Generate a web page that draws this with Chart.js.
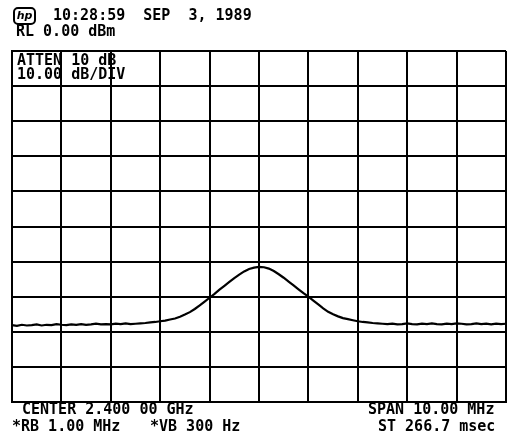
<!DOCTYPE html>
<html>
<head>
<meta charset="utf-8">
<script src="https://cdn.jsdelivr.net/npm/chart.js@4/dist/chart.umd.min.js"></script>
<style>
  body { margin: 0; background: #fff; }
  #wrap { position: relative; width: 508px; height: 445px; }
  canvas { position: absolute; left: 0; top: 0; }
  .t {
    position: absolute;
    font-family: "DejaVu Sans Mono", monospace;
    font-weight: bold;
    font-size: 15px;
    line-height: 15px;
    color: #000;
    white-space: pre;
  }
  #logo {
    position: absolute; left: 13px; top: 7px; width: 19px; height: 14px;
    border: 2px solid #000; border-radius: 5px;
    font-family: "DejaVu Sans", sans-serif; font-weight: bold; font-style: italic;
    font-size: 11px; line-height: 14px; text-align: center;
  }
</style>
</head>
<body>
<div id="wrap">
  <canvas id="spectrum" width="508" height="445"></canvas>
  <div id="logo">hp</div>
  <div class="t" style="left:53px; top:8px;">10:28:59  SEP  3, 1989</div>
  <div class="t" style="left:16px; top:24px;">RL 0.00 dBm</div>
  <div class="t" style="left:17px; top:53px;">ATTEN 10 dB</div>
  <div class="t" style="left:17px; top:67px;">10.00 dB/DIV</div>
  <div class="t" style="left:22px; top:402px;">CENTER 2.400 00 GHz</div>
  <div class="t" style="left:12px; top:419px;">*RB 1.00 MHz</div>
  <div class="t" style="left:150px; top:419px;">*VB 300 Hz</div>
  <div class="t" style="left:368px; top:402px;">SPAN 10.00 MHz</div>
  <div class="t" style="left:378px; top:419px;">ST 266.7 msec</div>
</div>
<script>
// sweep: 2395 .. 2405 MHz, 0.1 MHz per point
const startMHz = 2395;
const stepMHz = 0.1;

// trace level in dBm
const levelLeft = [
  -78.1, -78.3, -78.0, -78.2, -78.1, -77.9, -78.2, -78.0, -78.1, -77.8,
  -78.0, -78.1, -77.9, -78.0, -77.8, -78.0, -77.9, -77.7, -77.9, -77.8,
  -77.9, -77.7, -77.8, -77.6, -77.8,
];
const levelPeak = [
  -77.7, -77.6, -77.5, -77.3, -77.2, -77.0, -76.8, -76.5, -76.2, -75.7,
  -75.1, -74.4, -73.5, -72.5, -71.4, -70.3, -69.2, -68.0, -66.9, -65.8,
  -64.7, -63.7, -62.8, -62.1, -61.7, -61.5, -61.6, -62.0, -62.7, -63.6,
  -64.6, -65.7, -66.8, -67.9, -69.0, -70.0, -71.1, -72.2, -73.3, -74.3,
  -75.0, -75.6, -76.1, -76.4, -76.7, -77.0, -77.2, -77.3, -77.5, -77.6,
  -77.7,
];
const levelRight = [
  -77.8, -77.7, -77.9, -77.8, -77.6, -77.8, -77.9, -77.7, -77.8, -77.6,
  -77.8, -77.9, -77.7, -77.8, -77.6, -77.7, -77.9, -77.8, -77.6, -77.8,
  -77.7, -77.9, -77.7, -77.8, -77.7,
];

const levels = levelLeft.concat(levelPeak, levelRight);
const points = levels.map((v, i) => ({ x: startMHz + i * stepMHz, y: v }));

const gridStyle = {
  color: "#000",
  lineWidth: 2,
  drawTicks: false,
};

const ctx = document.getElementById("spectrum").getContext("2d");
const spectrumChart = new Chart(ctx, {
  type: "line",
  data: {
    datasets: [
      {
        data: points,
        borderColor: "#000",
        borderWidth: 2.2,
        pointRadius: 0,
        tension: 0,
        fill: false,
      },
    ],
  },
  options: {
    responsive: false,
    animation: false,
    layout: { padding: { left: 12, top: 51, right: 2, bottom: 43 } },
    plugins: { legend: { display: false }, tooltip: { enabled: false } },
    scales: {
      x: {
        type: "linear",
        min: 2395,
        max: 2405,
        ticks: { display: false, stepSize: 1 },
        grid: gridStyle,
        border: { color: "#000", width: 2 },
      },
      y: {
        min: -100,
        max: 0,
        ticks: { display: false, stepSize: 10 },
        grid: gridStyle,
        border: { color: "#000", width: 2 },
      },
    },
  },
});
</script>
</body>
</html>
